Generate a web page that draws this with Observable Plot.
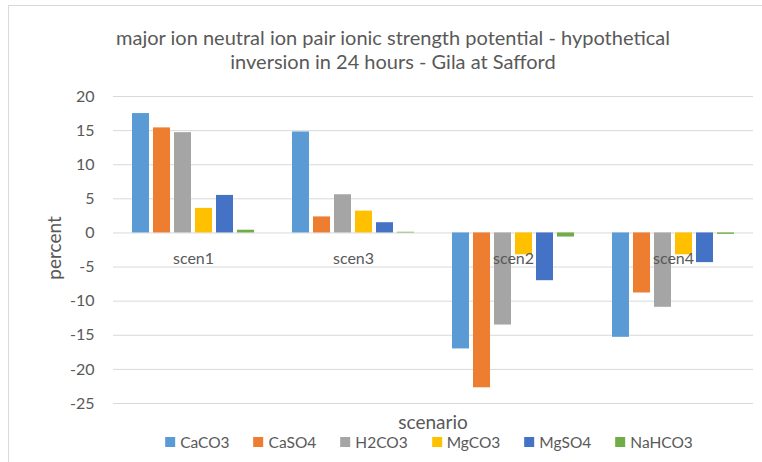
<!DOCTYPE html>
<html>
<head>
<meta charset="utf-8">
<script src="https://cdn.jsdelivr.net/npm/d3@7"></script>
<script src="https://cdn.jsdelivr.net/npm/@observablehq/plot@0.6"></script>
<style>
  html, body { margin: 0; padding: 0; background: #fff; }
  #wrap { position: relative; width: 762px; height: 462px; font-family: Lato, "Open Sans", sans-serif; color: #595959; overflow: hidden; }
  #border { position: absolute; left: 8px; top: 5px; width: 800px; height: 500px; border-left: 1px solid #d9d9d9; border-top: 1px solid #d9d9d9; }
  #title { position: absolute; left: 0; width: 786px; top: 25px; text-align: center; font-size: 20px; line-height: 24px; color: #595959; }
  #ylab { position: absolute; left: 53px; top: 248px; transform: translate(-50%, -50%) rotate(-90deg); font-size: 19px; white-space: nowrap; }
  #xlab { position: absolute; left: 433px; top: 421px; transform: translate(-50%, -50%); font-size: 19px; }
  #legend { position: absolute; left: 429px; top: 442px; transform: translate(-50%, -50%); display: flex; gap: 24px; font-size: 15.5px; white-space: nowrap; }
  .item { display: flex; align-items: center; gap: 5px; }
  .sw { width: 10px; height: 10px; display: inline-block; }
  #chart { position: absolute; left: 0; top: 0; }
</style>
</head>
<body>
<div id="wrap">
  <div id="border"></div>
  <div id="chart"></div>
  <div id="title">major ion neutral ion pair ionic strength potential - hypothetical<br>inversion in 24 hours - Gila at Safford</div>
  <div id="ylab">percent</div>
  <div id="xlab">scenario</div>
  <div id="legend"></div>
</div>
<script>
const scenarios = ["scen1", "scen3", "scen2", "scen4"];
const ions = ["CaCO3", "CaSO4", "H2CO3", "MgCO3", "MgSO4", "NaHCO3"];
const colors = ["#5B9BD5", "#ED7D31", "#A5A5A5", "#FFC000", "#4472C4", "#70AD47"];
const yTicks = [-25, -20, -15, -10, -5, 0, 5, 10, 15, 20];
// values per scenario, in ion order
const scen1 = [17.5, 15.4, 14.7, 3.6, 5.5, 0.4];
const scen3 = [14.8, 2.35, 5.6, 3.2, 1.5, 0.1];
const scen2 = [-17.0, -22.7, -13.5, -3.2, -7.0, -0.6];
const scen4 = [-15.3, -8.8, -10.9, -3.2, -4.35, -0.2];

const series = {scen1, scen3, scen2, scen4};
const data = scenarios.flatMap(s => ions.map((ion, i) => ({scenario: s, ion, value: series[s][i]})));

const chart = Plot.plot({
  width: 762,
  height: 462,
  marginLeft: 113,
  marginRight: 9,
  marginTop: 96,
  marginBottom: 59,
  style: {fontFamily: "Lato, 'Open Sans', sans-serif", fontSize: "16px", color: "#595959", background: "transparent"},
  fx: {domain: scenarios, padding: 0, axis: null, label: null},
  x: {domain: ions, paddingInner: 0.2, paddingOuter: 0.85, axis: null, label: null},
  y: {domain: [-25, 20], ticks: yTicks, tickSize: 0, tickPadding: 19, tickFormat: d => String(d), label: null},
  color: {domain: ions, range: colors},
  marks: [
    Plot.ruleY(yTicks, {stroke: "#d9d9d9", strokeWidth: 1}),
    Plot.barY(data, {fx: "scenario", x: "ion", y: "value", fill: "ion"}),
    Plot.text(scenarios, {fx: d => d, y: 0, text: d => d, dy: 26, fontSize: 16, fill: "#595959"})
  ]
});
document.getElementById("chart").appendChild(chart);

const legend = document.getElementById("legend");
ions.forEach((ion, i) => {
  const item = document.createElement("div");
  item.className = "item";
  const sw = document.createElement("span");
  sw.className = "sw";
  sw.style.background = colors[i];
  const label = document.createElement("span");
  label.textContent = ion;
  item.appendChild(sw);
  item.appendChild(label);
  legend.appendChild(item);
});
</script>
</body>
</html>
